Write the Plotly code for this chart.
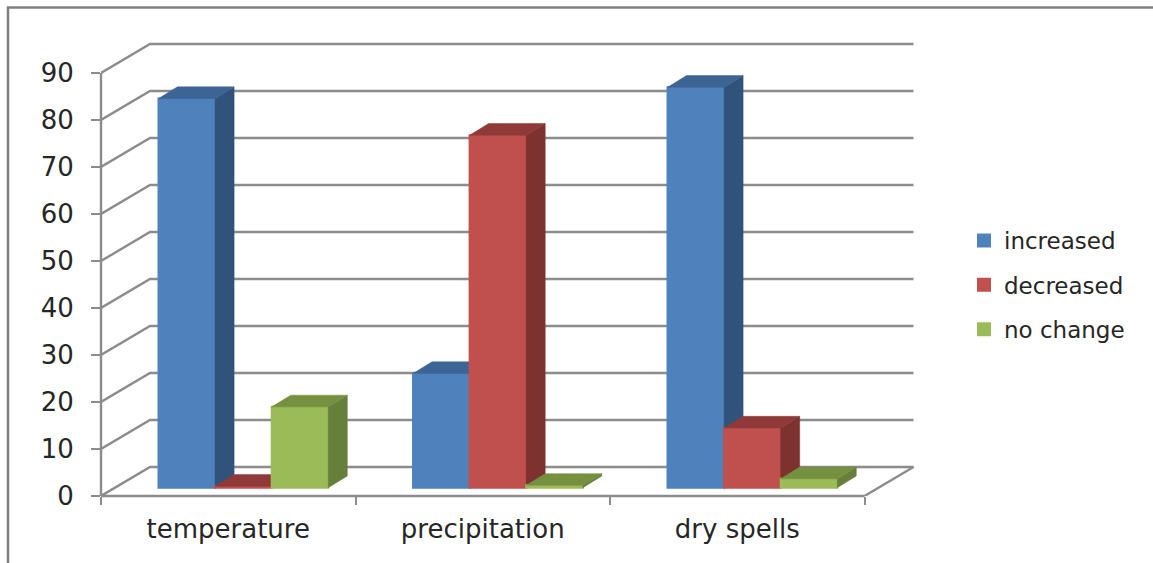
import plotly.graph_objects as go

categories = ["temperature", "precipitation", "dry spells"]
series_names = ["increased", "decreased", "no change"]
increased = [82.8, 24.3, 85.2]
decreased = [0.3, 75, 12.7]
no_change = [17.2, 0.5, 1.9]
y_ticks = [0, 10, 20, 30, 40, 50, 60, 70, 80, 90]
x_ticks = [0, 1, 2, 3]
front_colors = ["#4F81BD", "#C0504D", "#9BBB59"]
side_colors = ["#31527A", "#7D3230", "#667F3B"]
top_colors = ["#3C6494", "#8F3A38", "#759140"]
GRID = "#8C8C8C"
TEXT = "#262626"
FONT = "DejaVu Sans"

W, H = 1153, 563
L, R, T, B = 101, 920, 38, 496
X_UNIT = 254.5   # pixels per category
Y_UNIT = 4.7     # pixels per value unit
x_max = (R - L) / X_UNIT
y_max = (B - T) / Y_UNIT

WALL_DX, WALL_DY = 49 / X_UNIT, 29 / Y_UNIT
BAR_DX, BAR_DY = 19 / X_UNIT, 11.7 / Y_UNIT
BAR_W = 56.6 / X_UNIT
GROUP_LEFT = 57.5 / X_UNIT
BASE = 8.3 / Y_UNIT

fig = go.Figure()


def line(xs, ys, width=2.4):
    fig.add_trace(go.Scatter(x=xs, y=ys, mode="lines", showlegend=False, hoverinfo="skip",
                             cliponaxis=False, line=dict(color=GRID, width=width)))


# walls and floor
for v in y_ticks:
    line([0, WALL_DX, 3 + WALL_DX], [v, v + WALL_DY, v + WALL_DY])
line([3, 3 + WALL_DX], [0, WALL_DY])

# bars, one overlaying subplot per series so later series cover earlier ones
all_values = [increased, decreased, no_change]
for s, values in enumerate(all_values):
    suffix = str(s + 2)
    xa, ya = "x" + suffix, "y" + suffix
    lefts = [i + GROUP_LEFT + s * BAR_W for i in range(len(categories))]
    sx, sy, tx, ty = [], [], [], []
    for xl, v in zip(lefts, values):
        xr = xl + BAR_W
        top = BASE + v
        sx += [xr, xr + BAR_DX, xr + BAR_DX, xr, xr, None]
        sy += [BASE, BASE + BAR_DY, top + BAR_DY, top, BASE, None]
        tx += [xl, xl + BAR_DX, xr + BAR_DX, xr, xl, None]
        ty += [top, top + BAR_DY, top + BAR_DY, top, top, None]
    fig.add_trace(go.Bar(x=[xl + BAR_W / 2 for xl in lefts], y=values, base=BASE, width=BAR_W,
                         name=series_names[s], legendgroup=series_names[s],
                         marker=dict(color=front_colors[s],
                                     line=dict(color=front_colors[s], width=2)),
                         xaxis=xa, yaxis=ya, hoverinfo="name+y"))
    for px_, py_, col in ((sx, sy, side_colors[s]), (tx, ty, top_colors[s])):
        fig.add_trace(go.Scatter(x=px_, y=py_, mode="lines", fill="toself", fillcolor=col,
                                 line=dict(width=0.5, color=col), showlegend=False,
                                 hoverinfo="skip", cliponaxis=False, xaxis=xa, yaxis=ya))


def px(xp):
    return (xp - L) / (R - L)


def py(yp):
    return (B - yp) / (B - T)


layout = dict(
    width=W, height=H, autosize=False,
    margin=dict(l=L, r=W - R, t=T, b=H - B, pad=0),
    paper_bgcolor="white", plot_bgcolor="rgba(0,0,0,0)",
    font=dict(family=FONT, color=TEXT),
    barmode="overlay",
    xaxis=dict(range=[0, x_max], tickmode="array", tickvals=x_ticks,
               ticktext=["" for _ in x_ticks], ticks="outside", ticklen=8, tickwidth=2.4,
               tickcolor=GRID, showgrid=False, zeroline=False, showline=False),
    yaxis=dict(range=[0, y_max], tickmode="array", tickvals=y_ticks, ticks="outside", ticklen=9,
               tickwidth=2.4, tickcolor=GRID, showgrid=False, zeroline=False, showline=False,
               tickfont=dict(size=26, family=FONT, color=TEXT), ticklabelstandoff=12),
    legend=dict(x=px(964), xanchor="left", y=py(219), yanchor="top",
                font=dict(size=23, family=FONT, color=TEXT), tracegroupgap=11.5,
                traceorder="grouped", itemclick=False, itemdoubleclick=False,
                bgcolor="rgba(0,0,0,0)"),
    shapes=[
        dict(type="path", xref="paper", yref="paper",
             path="M %f,%f L %f,%f L %f,%f" % (px(8), py(H), px(8), py(7.5), px(W), py(7.5)),
             line=dict(color="#808080", width=2.5)),
        # front axis lines, which sit on the subplot edge and would be clipped as traces
        dict(type="line", xref="paper", yref="paper", x0=0, x1=3 / x_max, y0=0, y1=0,
             line=dict(color=GRID, width=2.4), layer="below"),
        dict(type="line", xref="paper", yref="paper", x0=0, x1=0, y0=0, y1=y_ticks[-1] / y_max,
             line=dict(color=GRID, width=2.4), layer="below"),
    ],
)
for s in range(2, 5):
    layout["xaxis%d" % s] = dict(matches="x", overlaying="x", visible=False)
    layout["yaxis%d" % s] = dict(matches="y", overlaying="y", visible=False)
# category labels live on the first overlay axis, with no tick marks of their own
layout["xaxis2"] = dict(matches="x", overlaying="x", anchor="y", side="bottom",
                        tickmode="array", tickvals=[i + 0.5 for i in range(len(categories))],
                        ticktext=categories, ticks="", showgrid=False, zeroline=False,
                        showline=False, tickfont=dict(size=26, family=FONT, color=TEXT),
                        ticklabelstandoff=15)
fig.update_layout(**layout)

fig.write_html("out.html", config={"displayModeBar": False},
               post_script="document.body.style.margin='0';document.body.style.overflow='hidden';")
